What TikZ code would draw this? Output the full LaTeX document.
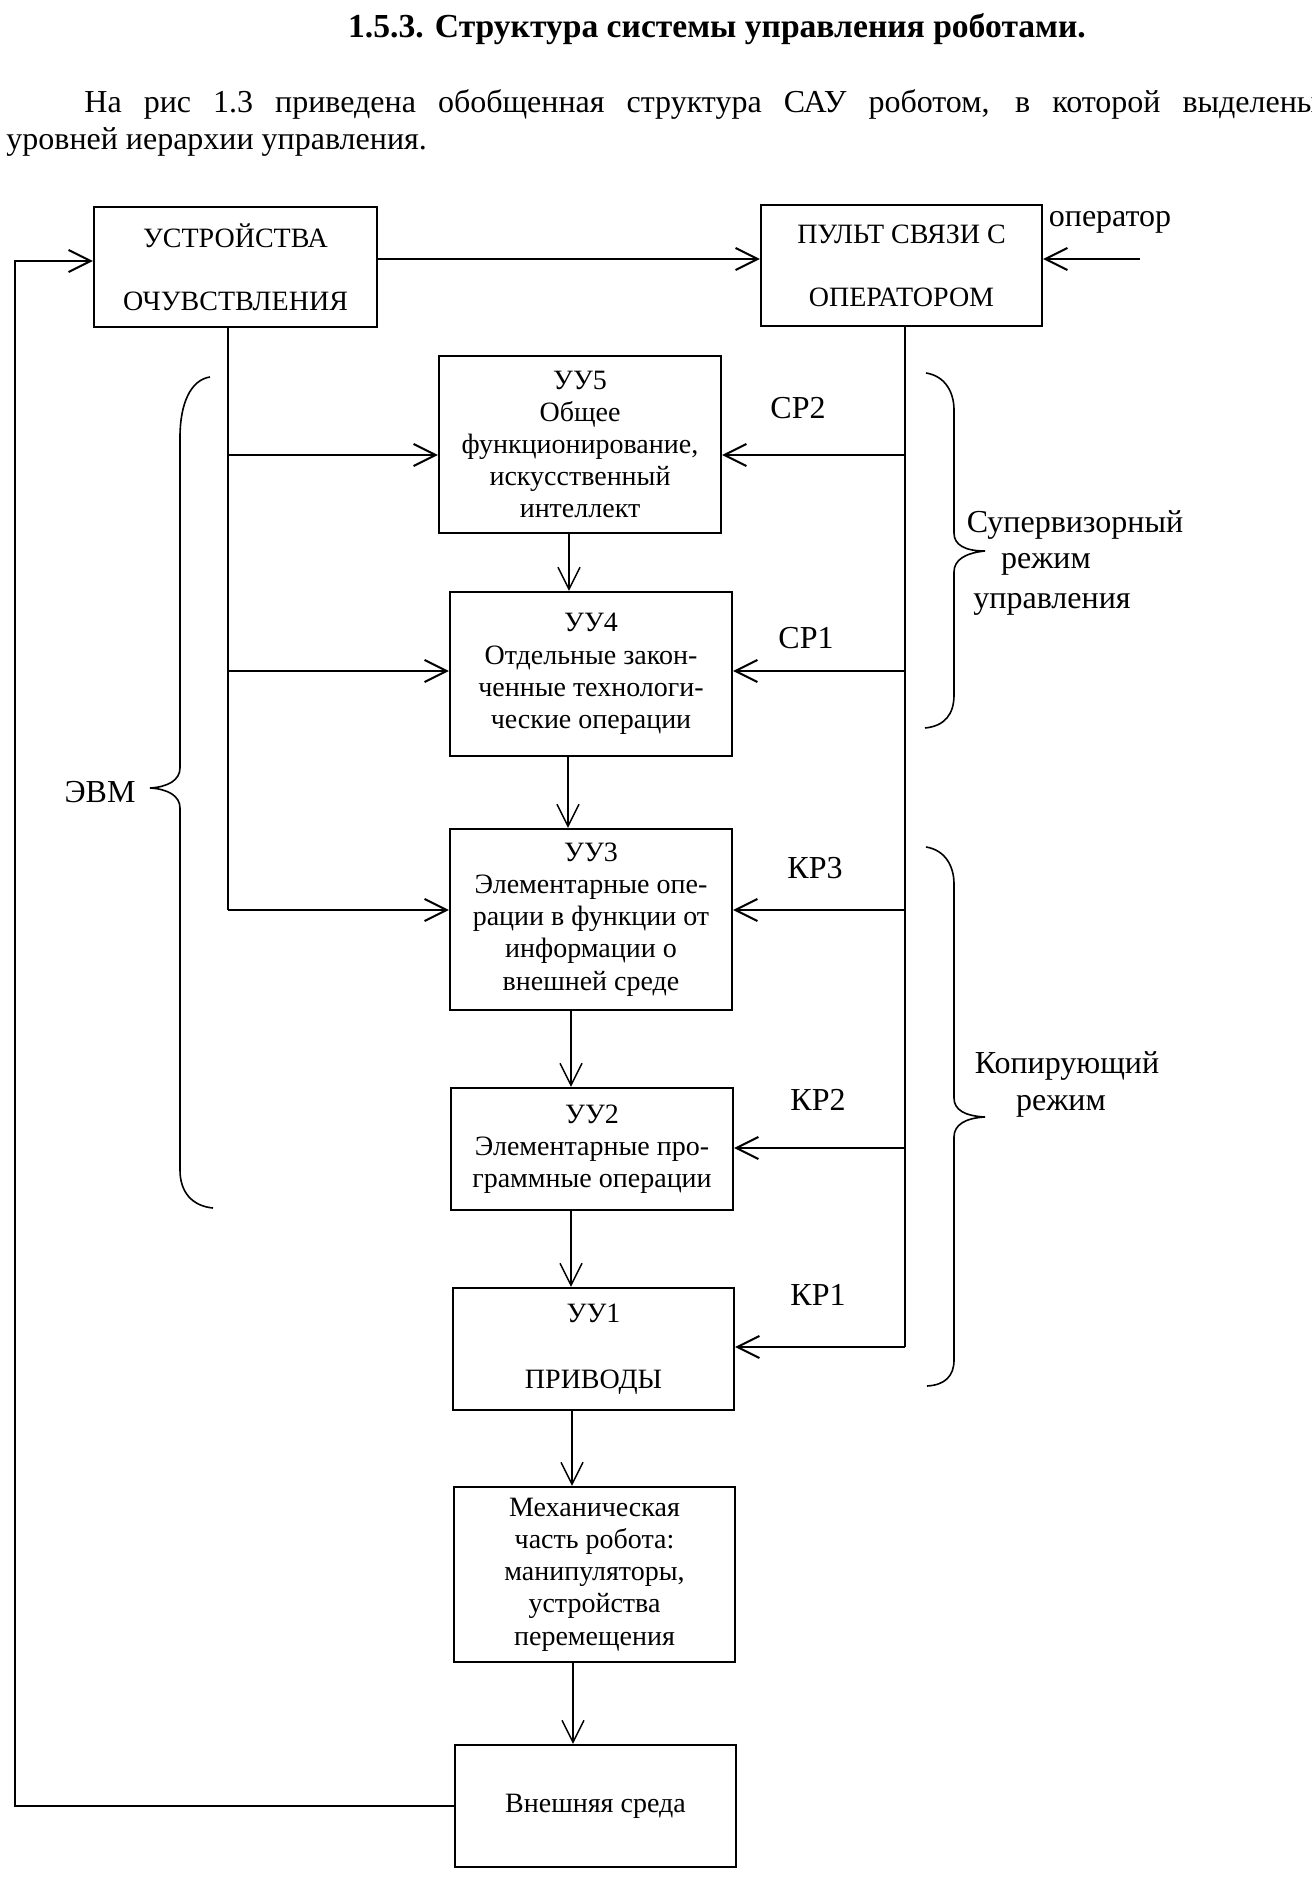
\documentclass[tikz,border=0pt]{standalone}
\usepackage{fontspec}
\setmainfont{Liberation Serif}
\usetikzlibrary{arrows.meta}
\begin{document}
\begin{tikzpicture}[x=0.5pt,y=-0.5pt,
  box/.style={draw, line width=1.2pt, inner sep=0pt, align=center, font=\fontsize{14}{16.1}\selectfont},
  lab/.style={inner sep=0pt, font=\fontsize{16}{18.4}\selectfont, anchor=base},
  conn/.style={line width=1pt},
  vconn/.style={line width=0.7pt},
  arrowed/.style={-{Straight Barb[length=11pt,width=11pt]}},
  brace/.style={line width=0.8pt}]
\fill[white] (0,0) rectangle (1311,1882);
\useasboundingbox (0,0) rectangle (1311,1882);

% heading and paragraph
\node[lab, font=\fontsize{16.8}{19}\selectfont\bfseries] (title) at (717,38) {1.5.3. Структура системы управления роботами.};
\node[lab, anchor=base west] (par1) at (84,113) {\makebox[617pt][s]{На рис 1.3 приведена обобщенная структура САУ роботом, в которой выделены}};
\node[lab, anchor=base west] (par2) at (6,150) {уровней иерархии управления.};

% boxes
\node[box, minimum width=141.5pt, minimum height=60pt] (ustr) at (235.5,267) {УСТРОЙСТВА\\[15.5pt]ОЧУВСТВЛЕНИЯ};
\node[box, minimum width=140.5pt, minimum height=60.5pt] (pult) at (901.5,265.5) {ПУЛЬТ СВЯЗИ С\\[15.5pt]ОПЕРАТОРОМ};
\node[box, minimum width=141pt, minimum height=88.5pt] (uu5) at (580,444.5) {УУ5\\Общее\\функционирование,\\искусственный\\интеллект};
\node[box, minimum width=141pt, minimum height=82pt] (uu4) at (591,674) {УУ4\\Отдельные закон-\\ченные технологи-\\ческие операции};
\node[box, minimum width=141pt, minimum height=90.5pt] (uu3) at (591,919.5) {УУ3\\Элементарные опе-\\рации в функции от\\информации о\\внешней среде};
\node[box, minimum width=141pt, minimum height=61pt] (uu2) at (592,1149) {УУ2\\Элементарные про-\\граммные операции};
\node[box, minimum width=140.5pt, minimum height=61pt] (uu1) at (593.5,1349) {УУ1\\[17pt]ПРИВОДЫ};
\node[box, minimum width=140.5pt, minimum height=87.5pt] (mech) at (594.5,1574.5) {Механическая\\часть робота:\\манипуляторы,\\устройства\\перемещения};
\node[box, minimum width=140.5pt, minimum height=61pt] (env) at (595.5,1806) {Внешняя среда};

% labels
\node[lab] (op) at (1110,227) {оператор};
\node[lab] (sr2) at (798,419) {СР2};
\node[lab] (sr1) at (806,648) {СР1};
\node[lab] (kr3) at (815,878) {КР3};
\node[lab] (kr2) at (818,1110) {КР2};
\node[lab] (kr1) at (818,1305) {КР1};
\node[lab] (evm) at (100,802) {ЭВМ};
\node[lab] (sup1) at (1075,532) {Супервизорный};
\node[lab] (sup2) at (1046,568) {режим};
\node[lab] (sup3) at (1052,608) {управления};
\node[lab] (kop1) at (1067,1073) {Копирующий};
\node[lab] (kop2) at (1061,1110) {режим};

% top connectors
\coordinate (opsrc) at (1140,259);
\draw[conn, arrowed] (opsrc) -- (opsrc -| pult.east);
\draw[conn, arrowed] ([yshift=4pt]ustr.east) -- ([yshift=4pt]ustr.east -| pult.west);

% feedback loop
\coordinate (fb) at (15,261);
\draw[conn, arrowed] (env.west) -- (env.west -| fb) -- (fb) -- (fb -| ustr.west);

% left trunk
\coordinate (lt) at (228,327);
\coordinate (lj5) at (228,455);
\coordinate (lj4) at (228,671);
\coordinate (lj3) at (228,910);
\draw[vconn] (lt) -- (lj3);
\draw[conn, arrowed] (lj5) -- (lj5 -| uu5.west);
\draw[conn, arrowed] (lj4) -- (lj4 -| uu4.west);
\draw[conn, arrowed] (lj3) -- (lj3 -| uu3.west);

% right trunk
\coordinate (rt) at (905,326);
\coordinate (rj5) at (905,455);
\coordinate (rj4) at (905,671);
\coordinate (rj3) at (905,910);
\coordinate (rj2) at (905,1148);
\coordinate (rj1) at (905,1347);
\draw[vconn] (rt) -- (rj1);
\draw[conn, arrowed] (rj5) -- (rj5 -| uu5.east);
\draw[conn, arrowed] (rj4) -- (rj4 -| uu4.east);
\draw[conn, arrowed] (rj3) -- (rj3 -| uu3.east);
\draw[conn, arrowed] (rj2) -- (rj2 -| uu2.east);
\draw[conn, arrowed] (rj1) -- (rj1 -| uu1.east);

% vertical chain
\coordinate (v54) at (569,0);
\coordinate (v43) at (568,0);
\coordinate (v32) at (571,0);
\coordinate (v21) at (571,0);
\coordinate (v1m) at (572,0);
\coordinate (vme) at (573,0);
\draw[vconn, arrowed] (v54 |- uu5.south) -- (v54 |- uu4.north);
\draw[vconn, arrowed] (v43 |- uu4.south) -- (v43 |- uu3.north);
\draw[vconn, arrowed] (v32 |- uu3.south) -- (v32 |- uu2.north);
\draw[vconn, arrowed] (v21 |- uu2.south) -- (v21 |- uu1.north);
\draw[vconn, arrowed] (v1m |- uu1.south) -- (v1m |- mech.north);
\draw[vconn, arrowed] (vme |- mech.south) -- (vme |- env.north);

% braces
\draw[brace] (210,377) .. controls (190,380) and (180,405) .. (180,437) -- (180,768)
  .. controls (180,780) and (168,787) .. (150,788) .. controls (168,789) and (180,796) .. (180,808)
  -- (180,1170) .. controls (180,1192) and (192,1206) .. (213,1208);
\draw[brace] (926,373) .. controls (945,376) and (954,392) .. (954,410) -- (954,533)
  .. controls (954,545) and (965,551) .. (985,551) .. controls (965,553) and (954,560) .. (954,572)
  -- (954,695) .. controls (954,714) and (945,726) .. (925,728);
\draw[brace] (926,847) .. controls (945,850) and (954,866) .. (954,884) -- (954,1098)
  .. controls (954,1110) and (965,1116) .. (985,1117) .. controls (965,1118) and (954,1125) .. (954,1137)
  -- (954,1360) .. controls (954,1376) and (945,1385) .. (927,1386);
\end{tikzpicture}
\end{document}
